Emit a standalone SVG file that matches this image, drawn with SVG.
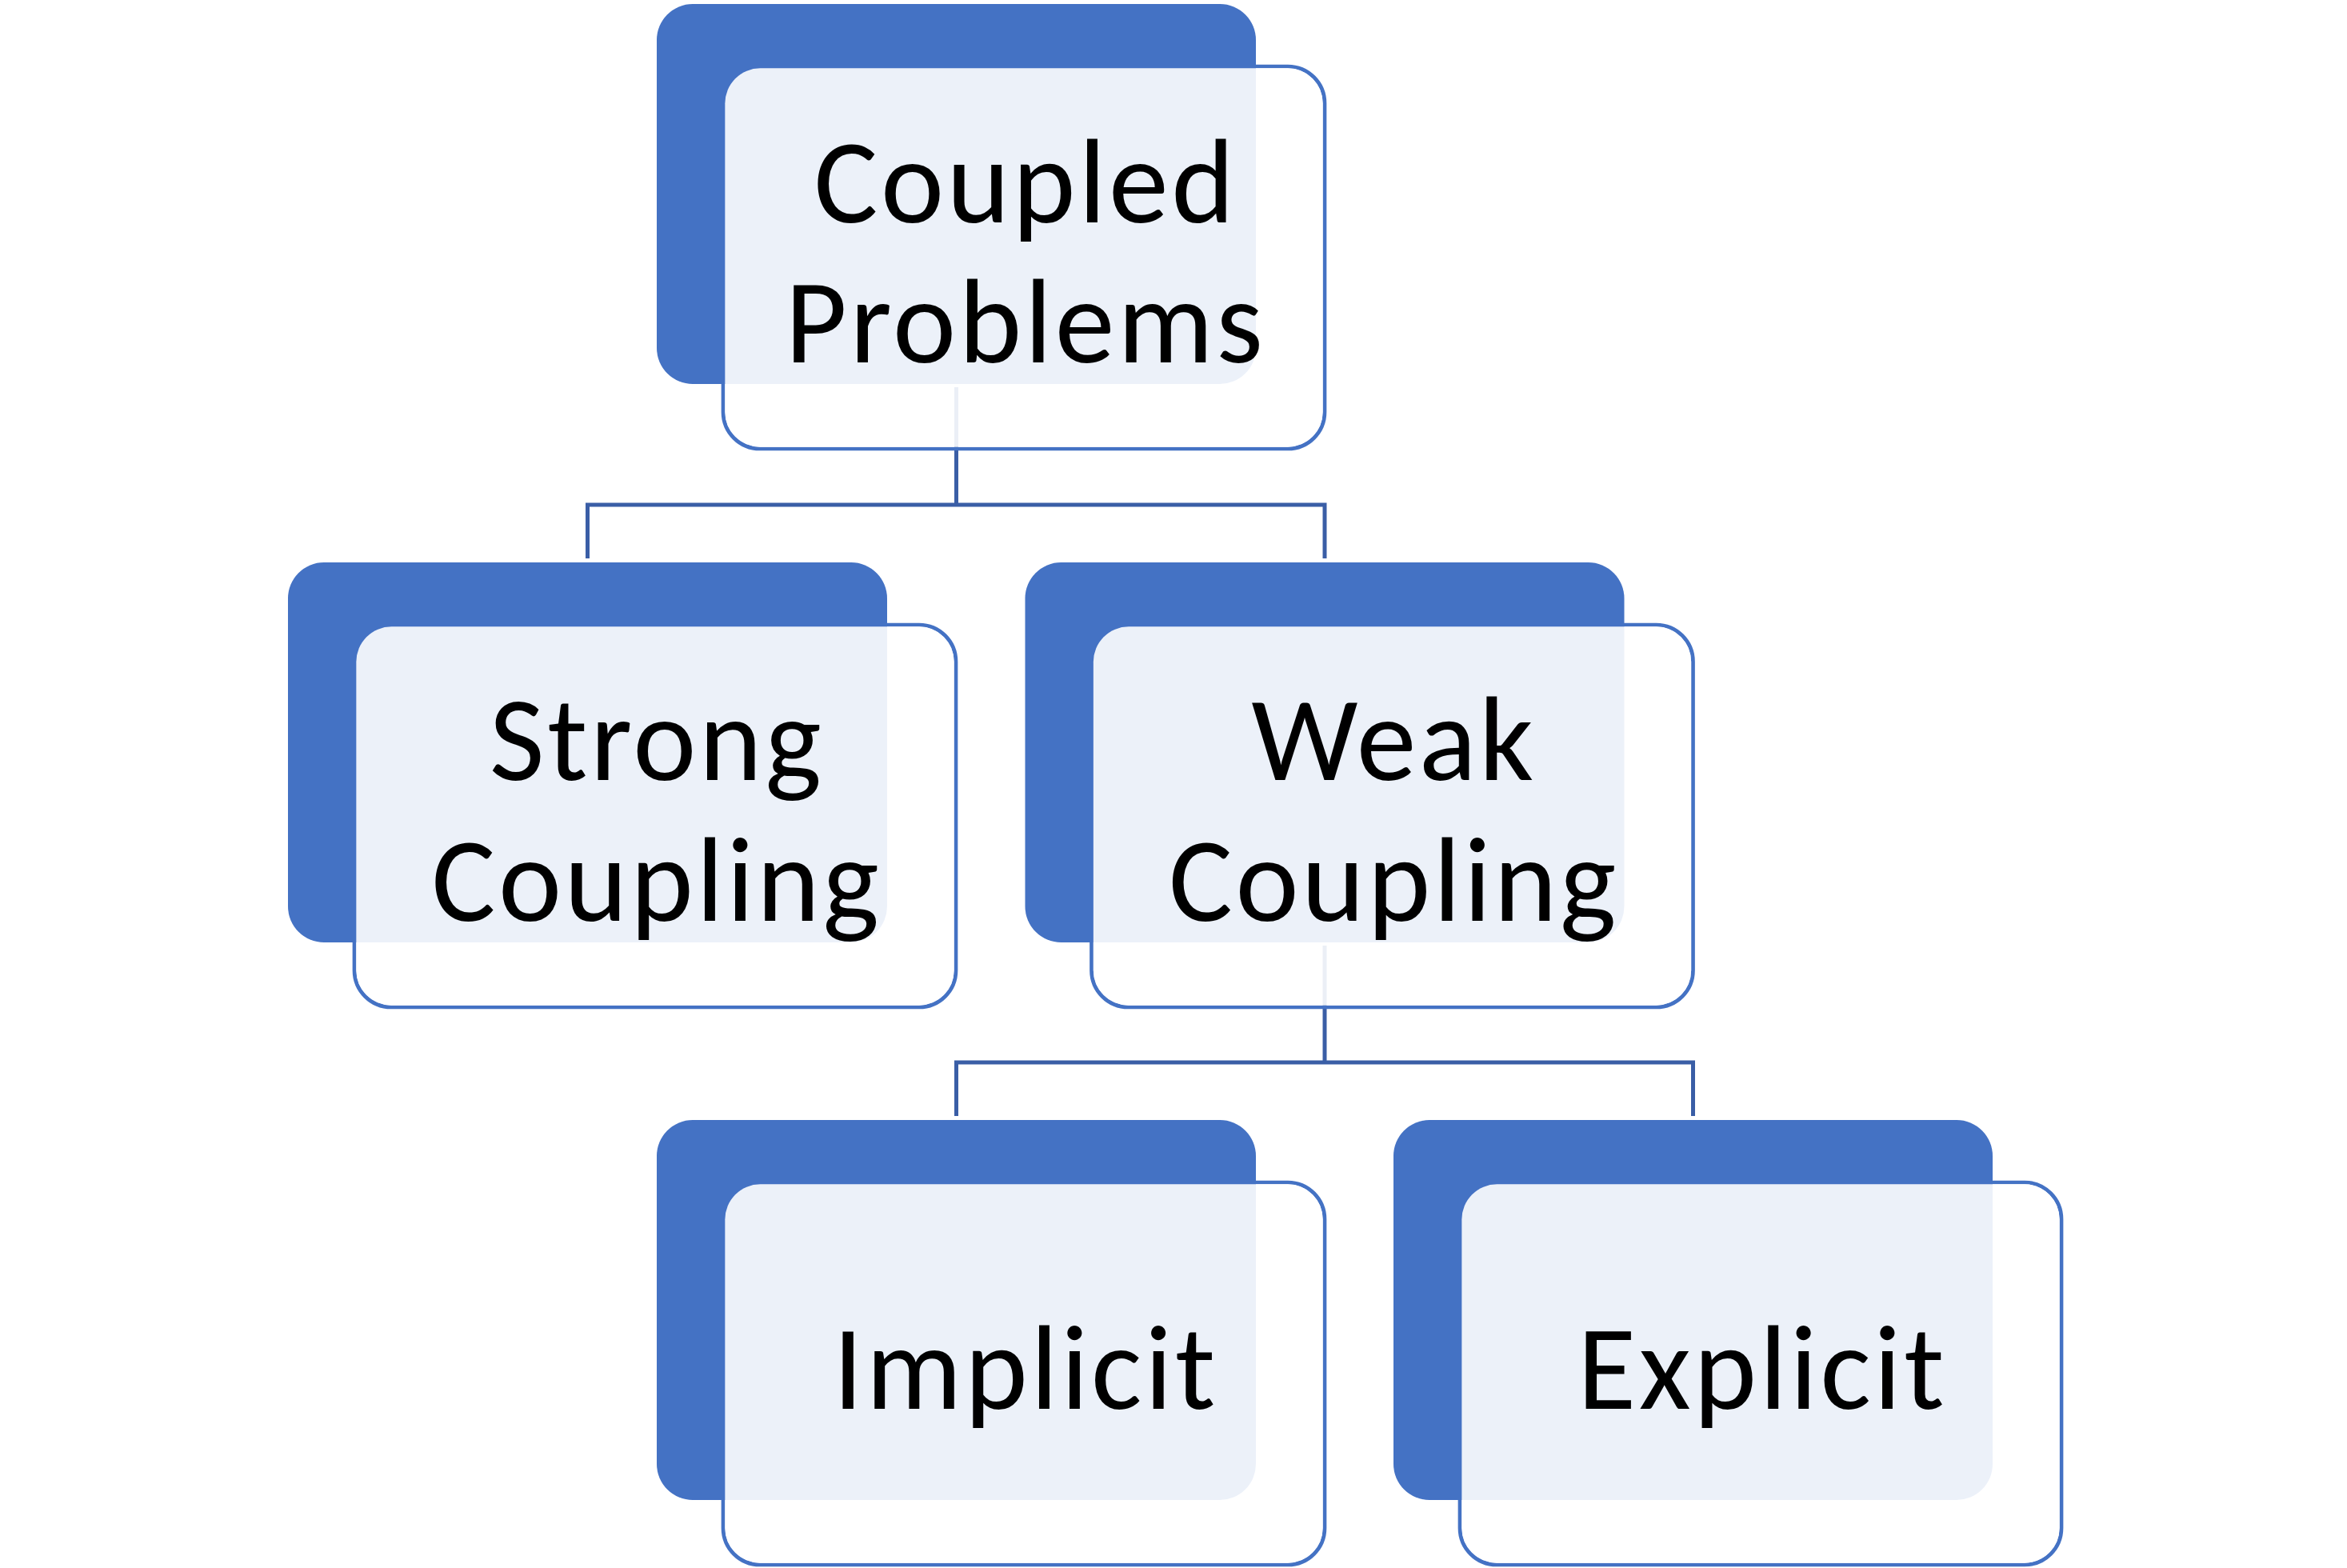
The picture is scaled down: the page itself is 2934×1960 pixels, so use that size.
<svg xmlns="http://www.w3.org/2000/svg" width="2934" height="1960" viewBox="0 0 2934 1960">
<style>
.bg{fill:#FFFFFF}
.outline{fill:none;stroke:#4472C4;stroke-width:4.7}
.back{fill:#4472C4}
.veil{fill:#FFFFFF;fill-opacity:0.9}
.conn{fill:none;stroke:#3A5EA6;stroke-width:5}
.lbl{font-family:Calibri,Carlito,Lato,"Open Sans",sans-serif;font-size:150px;letter-spacing:3.5px;fill:#000000;text-anchor:middle}
</style>
<rect class="bg" x="0" y="0" width="2934" height="1960"/>
<g id="connectors">
  <path class="conn" d="M1195.5,484 V631 M734.5,698 V631 H1656 V698"/>
  <path class="conn" d="M1656,1182 V1328 M1195.5,1395 V1328 H2116.5 V1395"/>
</g>
<g id="node-coupled-problems">
  <rect class="outline" x="904" y="83" width="752" height="478" rx="46"/>
  <rect class="back" x="821" y="5" width="749" height="475" rx="45"/>
  <rect class="veil" x="906.35" y="85.35" width="747.3" height="473.3" rx="44"/>
  <text class="lbl" x="1282" y="278">Coupled</text>
  <text class="lbl" x="1282" y="453">Problems</text>
</g>
<g id="node-strong-coupling">
  <rect class="outline" x="443" y="781" width="752" height="478" rx="46"/>
  <rect class="back" x="360" y="703" width="749" height="475" rx="45"/>
  <rect class="veil" x="445.35" y="783.35" width="747.3" height="473.3" rx="44"/>
  <text class="lbl" x="821" y="975">Strong</text>
  <text class="lbl" x="821" y="1151">Coupling</text>
</g>
<g id="node-weak-coupling">
  <rect class="outline" x="1364.5" y="781" width="752" height="478" rx="46"/>
  <rect class="back" x="1281.5" y="703" width="749" height="475" rx="45"/>
  <rect class="veil" x="1366.85" y="783.35" width="747.3" height="473.3" rx="44"/>
  <text class="lbl" x="1742.5" y="975">Weak</text>
  <text class="lbl" x="1742.5" y="1151">Coupling</text>
</g>
<g id="node-implicit">
  <rect class="outline" x="904" y="1478" width="752" height="478" rx="46"/>
  <rect class="back" x="821" y="1400" width="749" height="475" rx="45"/>
  <rect class="veil" x="906.35" y="1480.35" width="747.3" height="473.3" rx="44"/>
  <text class="lbl" x="1282" y="1761">Implicit</text>
</g>
<g id="node-explicit">
  <rect class="outline" x="1825" y="1478" width="752" height="478" rx="46"/>
  <rect class="back" x="1742" y="1400" width="749" height="475" rx="45"/>
  <rect class="veil" x="1827.35" y="1480.35" width="747.3" height="473.3" rx="44"/>
  <text class="lbl" x="2203" y="1761">Explicit</text>
</g>
</svg>
